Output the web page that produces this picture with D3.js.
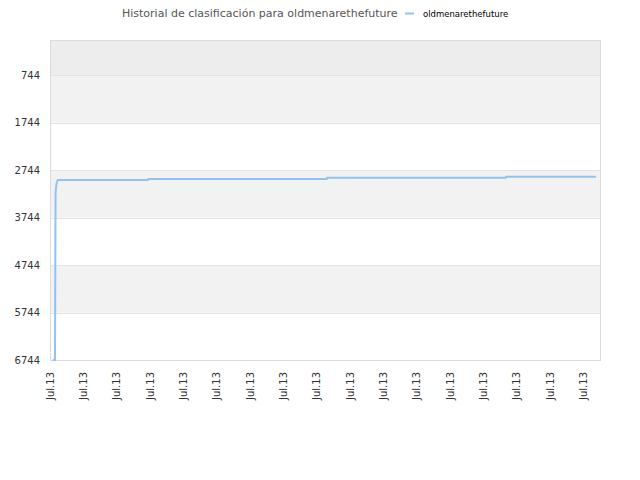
<!DOCTYPE html>
<html>
<head>
<meta charset="utf-8">
<script src="https://cdn.jsdelivr.net/npm/d3@7"></script>
<style>
  body { margin: 0; background: #fff; }
  text { font-family: "DejaVu Sans", sans-serif; }
</style>
</head>
<body>
<svg id="chart"></svg>
<script>
// minutes after midnight, Jul 13
const minutes = [5, 9, 10, 11, 12, 14, 176, 177, 498, 499, 820, 821, 983];
const ranks = [6744, 6744, 3230, 3100, 3018, 2954, 2954, 2933, 2933, 2906, 2906, 2885, 2885];
const yTicks = [744, 1744, 2744, 3744, 4744, 5744, 6744];
const bands = [[7, 744, "#ededed"], [744, 1744, "#f2f2f2"], [2744, 3744, "#f2f2f2"], [4744, 5744, "#f2f2f2"]];
const playerName = "oldmenarethefuture";

const W = 640, H = 480;
const margin = {top: 40, right: 40, bottom: 120, left: 50},
  width = W - margin.left - margin.right,
  height = H - margin.top - margin.bottom;

const base = new Date(2013, 6, 13, 0, 0);
const toDate = m => new Date(base.getTime() + m * 60000);
const data = minutes.map((m, i) => ({t: toDate(m), r: ranks[i]}));

const svg = d3.select("#chart").attr("width", W).attr("height", H);
const g = svg.append("g").attr("transform", `translate(${margin.left},${margin.top})`);

const x = d3.scaleTime()
  .domain([base, toDate(990)])
  .range([0, width]);
const y = d3.scaleLinear()
  .domain([7, 6744])
  .range([0, height]);

// bands
g.selectAll("rect.band")
  .data(bands)
  .join("rect")
    .attr("class", "band")
    .attr("x", 0)
    .attr("width", width)
    .attr("y", d => y(d[0]))
    .attr("height", d => y(d[1]) - y(d[0]))
    .style("fill", d => d[2]);

// grid
g.selectAll("line.grid")
  .data(yTicks)
  .join("line")
    .attr("x1", 0).attr("x2", width)
    .attr("y1", d => Math.round(y(d)) + 0.5).attr("y2", d => Math.round(y(d)) + 0.5)
    .style("stroke", "#e3e3e3");

// frame
g.append("rect")
  .attr("x", 0.5).attr("y", 0.5)
  .attr("width", width).attr("height", height)
  .style("fill", "none").style("stroke", "#dcdcdc");

// y labels
g.selectAll("text.ylab")
  .data(yTicks)
  .join("text")
    .attr("x", -10)
    .attr("y", d => y(d))
    .attr("dy", "0.35em")
    .attr("text-anchor", "end")
    .style("font-size", "10px")
    .style("fill", "#333")
    .text(d => d);

// x labels
const xTicks = d3.range(0, 17).map(h => toDate(h * 60));
g.selectAll("text.xlab")
  .data(xTicks)
  .join("text")
    .attr("transform", d => `translate(${x(d)},${height + 12}) rotate(-90)`)
    .attr("dy", "0.35em")
    .attr("text-anchor", "end")
    .style("font-size", "10px")
    .style("fill", "#333")
    .text(d3.timeFormat("Jul.%d"));

// line
const line = d3.line()
  .x(d => x(d.t))
  .y(d => y(d.r));
g.append("path")
  .datum(data)
  .attr("d", line)
  .style("fill", "none")
  .style("stroke", "#90c3f3")
  .style("stroke-width", 2);

// title + legend
svg.append("text")
  .attr("x", 122).attr("y", 17)
  .style("font-size", "11px")
  .style("fill", "#555")
  .text("Historial de clasificación para " + playerName);

svg.append("line")
  .attr("x1", 405).attr("x2", 414)
  .attr("y1", 13.5).attr("y2", 13.5)
  .style("stroke", "#90c3f3").style("stroke-width", 2);
svg.append("text")
  .attr("x", 423).attr("y", 16.5)
  .style("font-size", "8.5px")
  .style("fill", "#000")
  .text(playerName);
</script>
</body>
</html>
